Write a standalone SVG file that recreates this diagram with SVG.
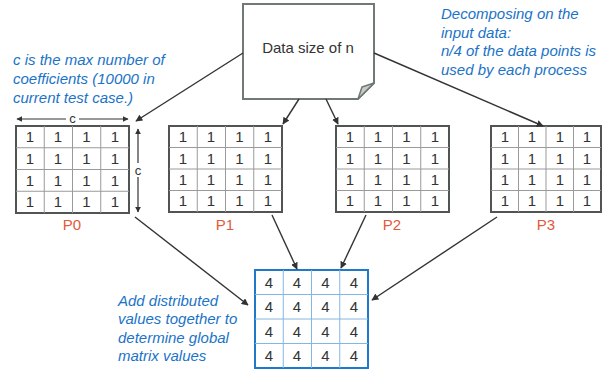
<svg xmlns="http://www.w3.org/2000/svg" width="613" height="375" viewBox="0 0 613 375">
<style>
.note{font-family:"Liberation Sans",Arial,sans-serif;font-style:italic;font-size:15px;fill:#1a73c7}
.cell{font-family:"Liberation Sans",Arial,sans-serif;font-size:15px;fill:#333;text-anchor:middle}
.cell4{font-family:"Liberation Sans",Arial,sans-serif;font-size:15px;fill:#333;text-anchor:middle}
.plabel{font-family:"Liberation Sans",Arial,sans-serif;font-size:15px;fill:#e2593b;text-anchor:middle}
.dim{font-family:"Liberation Sans",Arial,sans-serif;font-size:13px;fill:#333;text-anchor:middle}
.outer{fill:#fff;stroke:#505552;stroke-width:2}
.inner{stroke:#9a9a9a;stroke-width:1;fill:none}
.router{fill:#fff;stroke:#1f78c8;stroke-width:2}
.rinner{stroke:#84b6e2;stroke-width:1;fill:none}
.conn{stroke:#333;stroke-width:1.4;fill:none;marker-end:url(#ah)}
.dimline{stroke:#333;stroke-width:1.2;fill:none}
</style>
<defs>
<marker id="ah" viewBox="0 0 10 10" refX="9" refY="5" markerWidth="7" markerHeight="7" markerUnits="userSpaceOnUse" orient="auto">
<path d="M0,0 L10,5 L0,10 Z" fill="#333"/>
</marker>
<marker id="dh" viewBox="0 0 10 10" refX="9" refY="5" markerWidth="6" markerHeight="6" markerUnits="userSpaceOnUse" orient="auto-start-reverse">
<path d="M0,0 L10,5 L0,10 Z" fill="#333"/>
</marker>
</defs>

<!-- notes -->
<g id="note-c">
<text class="note" x="13" y="65">c is the max number of</text>
<text class="note" x="13" y="84">coefficients (10000 in</text>
<text class="note" x="13" y="103">current test case.)</text>
</g>
<g id="note-decomp">
<text class="note" x="441" y="19">Decomposing on the</text>
<text class="note" x="441" y="38">input data:</text>
<text class="note" x="441" y="56">n/4 of the data points is</text>
<text class="note" x="441" y="75">used by each process</text>
</g>
<g id="note-add">
<text class="note" x="118" y="306">Add distributed</text>
<text class="note" x="118" y="324">values together to</text>
<text class="note" x="118" y="343">determine global</text>
<text class="note" x="118" y="361">matrix values</text>
</g>

<!-- data box -->
<g id="data">
<path d="M243,4 H374 V83 L358,99 H243 Z" fill="#fff" stroke="#6f7a72" stroke-width="2"/>
<path d="M374,83 L358,99 L362,87 Z" fill="#c8cbc8" stroke="#6f7a72" stroke-width="1.5" stroke-linejoin="round"/>
<text x="308" y="53" font-family="Liberation Sans,Arial,sans-serif" font-size="15" fill="#333" text-anchor="middle">Data size of n</text>
</g>

<!-- P0 -->
<g id="P0">
<rect class="outer" x="16" y="126" width="113" height="87"/>
<path class="inner" d="M44.25,126V213M72.5,126V213M100.75,126V213M16,147.75H129M16,169.5H129M16,191.25H129"/>
<g class="cell">
<text x="30" y="142">1</text><text x="58" y="142">1</text><text x="86.5" y="142">1</text><text x="115" y="142">1</text>
<text x="30" y="164">1</text><text x="58" y="164">1</text><text x="86.5" y="164">1</text><text x="115" y="164">1</text>
<text x="30" y="186">1</text><text x="58" y="186">1</text><text x="86.5" y="186">1</text><text x="115" y="186">1</text>
<text x="30" y="207">1</text><text x="58" y="207">1</text><text x="86.5" y="207">1</text><text x="115" y="207">1</text>
</g>
<text class="plabel" x="72" y="230">P0</text>
<path class="dimline" d="M66,119 H17" marker-end="url(#dh)"/>
<path class="dimline" d="M79,119 H128" marker-end="url(#dh)"/>
<text class="dim" x="72.5" y="123">c</text>
<path class="dimline" d="M138,163 V129" marker-end="url(#dh)"/>
<path class="dimline" d="M138,177 V212" marker-end="url(#dh)"/>
<text class="dim" x="138" y="175">c</text>
</g>

<!-- P1 -->
<g id="P1">
<rect class="outer" x="169" y="126" width="113" height="86"/>
<path class="inner" d="M197.25,126V212M225.5,126V212M253.75,126V212M169,147.5H282M169,169H282M169,190.5H282"/>
<g class="cell">
<text x="183" y="142">1</text><text x="211" y="142">1</text><text x="239.5" y="142">1</text><text x="268" y="142">1</text>
<text x="183" y="164">1</text><text x="211" y="164">1</text><text x="239.5" y="164">1</text><text x="268" y="164">1</text>
<text x="183" y="185">1</text><text x="211" y="185">1</text><text x="239.5" y="185">1</text><text x="268" y="185">1</text>
<text x="183" y="206">1</text><text x="211" y="206">1</text><text x="239.5" y="206">1</text><text x="268" y="206">1</text>
</g>
<text class="plabel" x="225" y="230">P1</text>
</g>

<!-- P2 -->
<g id="P2">
<rect class="outer" x="336" y="126" width="113" height="86"/>
<path class="inner" d="M364.25,126V212M392.5,126V212M420.75,126V212M336,147.5H449M336,169H449M336,190.5H449"/>
<g class="cell">
<text x="350" y="142">1</text><text x="378" y="142">1</text><text x="406.5" y="142">1</text><text x="435" y="142">1</text>
<text x="350" y="164">1</text><text x="378" y="164">1</text><text x="406.5" y="164">1</text><text x="435" y="164">1</text>
<text x="350" y="185">1</text><text x="378" y="185">1</text><text x="406.5" y="185">1</text><text x="435" y="185">1</text>
<text x="350" y="206">1</text><text x="378" y="206">1</text><text x="406.5" y="206">1</text><text x="435" y="206">1</text>
</g>
<text class="plabel" x="392" y="230">P2</text>
</g>

<!-- P3 -->
<g id="P3">
<rect class="outer" x="491" y="126" width="110" height="86"/>
<path class="inner" d="M518.5,126V212M546,126V212M573.5,126V212M491,147.5H601M491,169H601M491,190.5H601"/>
<g class="cell">
<text x="505" y="142">1</text><text x="532" y="142">1</text><text x="560" y="142">1</text><text x="587" y="142">1</text>
<text x="505" y="164">1</text><text x="532" y="164">1</text><text x="560" y="164">1</text><text x="587" y="164">1</text>
<text x="505" y="185">1</text><text x="532" y="185">1</text><text x="560" y="185">1</text><text x="587" y="185">1</text>
<text x="505" y="206">1</text><text x="532" y="206">1</text><text x="560" y="206">1</text><text x="587" y="206">1</text>
</g>
<text class="plabel" x="546" y="230">P3</text>
</g>

<!-- result -->
<g id="result">
<rect class="router" x="255" y="270" width="113" height="98"/>
<path class="rinner" d="M283.25,270V368M311.5,270V368M339.75,270V368M255,294.5H368M255,319H368M255,343.5H368"/>
<g class="cell4">
<text x="269" y="288">4</text><text x="297" y="288">4</text><text x="325.5" y="288">4</text><text x="354" y="288">4</text>
<text x="269" y="312">4</text><text x="297" y="312">4</text><text x="325.5" y="312">4</text><text x="354" y="312">4</text>
<text x="269" y="337">4</text><text x="297" y="337">4</text><text x="325.5" y="337">4</text><text x="354" y="337">4</text>
<text x="269" y="361">4</text><text x="297" y="361">4</text><text x="325.5" y="361">4</text><text x="354" y="361">4</text>
</g>
</g>

<!-- connectors -->
<g id="connectors">
<path class="conn" d="M243,53 L136,121"/>
<path class="conn" d="M299,99 L283,124"/>
<path class="conn" d="M326,99 L338,124"/>
<path class="conn" d="M374,53 L543,126"/>
<path class="conn" d="M135,217 L248,305"/>
<path class="conn" d="M272,215 L297,269"/>
<path class="conn" d="M366,215 L341,268"/>
<path class="conn" d="M497,217 L372,300"/>
</g>
</svg>
